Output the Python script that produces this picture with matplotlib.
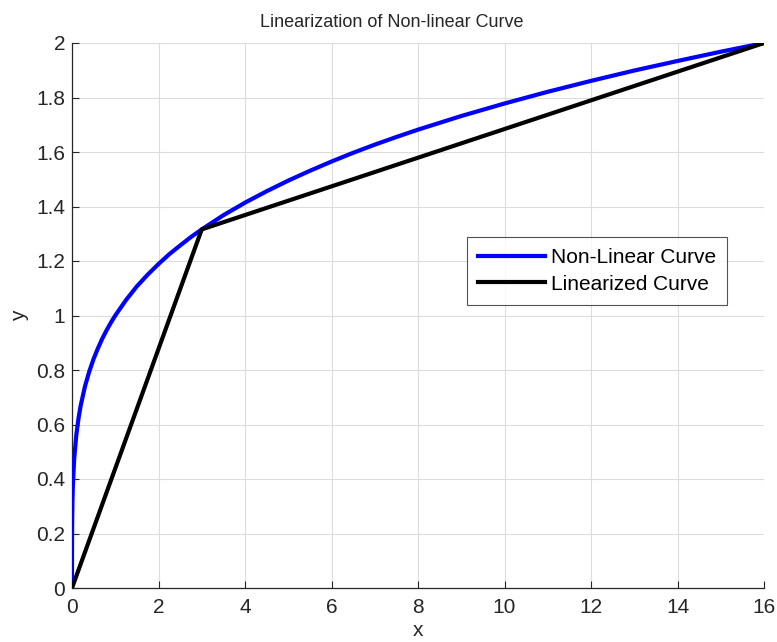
import matplotlib
matplotlib.use("Agg")
import matplotlib.pyplot as plt

plt.rcParams['font.family'] = ['Liberation Sans', 'DejaVu Sans']

# Non-linear curve samples
curve_x = [0, 0.00001, 0.0001, 0.0005, 0.001, 0.003, 0.01, 0.02, 0.05, 0.1,
           0.15, 0.2, 0.3, 0.4, 0.5, 0.6, 0.7, 0.8, 0.9, 1.0, 1.25, 1.5, 1.75,
           2.0, 2.25, 2.5, 2.75, 3.0, 3.5, 4.0, 4.5, 5.0, 5.5, 6.0, 6.5, 7.0,
           7.5, 8.0, 9.0, 10.0, 11.0, 12.0, 13.0, 14.0, 15.0, 16.0]
curve_y = [0, 0.056, 0.100, 0.150, 0.178, 0.234, 0.316, 0.376, 0.473, 0.562,
           0.622, 0.669, 0.740, 0.795, 0.841, 0.880, 0.915, 0.946, 0.974, 1.000,
           1.057, 1.107, 1.150, 1.189, 1.225, 1.257, 1.288, 1.316, 1.368, 1.414,
           1.456, 1.495, 1.531, 1.565, 1.597, 1.627, 1.655, 1.682, 1.732, 1.778,
           1.821, 1.861, 1.899, 1.934, 1.968, 2.000]

# Piecewise-linear approximation breakpoints
lin_x = [0, 3, 16]
lin_y = [0, 1.316, 2.0]

x_ticks = [0, 2, 4, 6, 8, 10, 12, 14, 16]
y_ticks = [0, 0.2, 0.4, 0.6, 0.8, 1.0, 1.2, 1.4, 1.6, 1.8, 2.0]
y_tick_labels = ['0', '0.2', '0.4', '0.6', '0.8', '1', '1.2', '1.4', '1.6', '1.8', '2']

W, H = 777, 642
fig = plt.figure(figsize=(W / 100, H / 100), dpi=100)
ax = fig.add_axes([72 / W, (H - 588) / H, (764 - 72) / W, (588 - 43) / H])

ax.plot(curve_x, curve_y, color='#0000ff', lw=3, label='Non-Linear Curve',
        zorder=3, solid_joinstyle='round')
ax.plot(lin_x, lin_y, color='black', lw=3, label='Linearized Curve', zorder=3)

ax.set_xlim(0, 16)
ax.set_ylim(0, 2)
ax.set_xticks(x_ticks)
ax.set_xticklabels([str(v) for v in x_ticks])
ax.set_yticks(y_ticks)
ax.set_yticklabels(y_tick_labels)

ax.grid(True, color='#dcdcdc', lw=0.8)
ax.set_axisbelow(True)
for s in ['top', 'right']:
    ax.spines[s].set_visible(False)
for s in ['left', 'bottom']:
    ax.spines[s].set_color('#262626')
    ax.spines[s].set_linewidth(0.9)

ax.tick_params(direction='in', length=5, width=0.8, color='#262626',
               labelsize=15, labelcolor='#262626')
ax.tick_params(axis='x', pad=7)
ax.tick_params(axis='y', pad=5)

ax.set_xlabel('x', fontsize=15, color='#262626', labelpad=3)
ax.set_ylabel('y', fontsize=15, color='#262626', labelpad=5)
fig.text(392 / W, 1 - 27 / H, 'Linearization of Non-linear Curve', fontsize=13,
         color='#262626', ha='center', va='baseline')

leg = ax.legend(loc='upper left',
                bbox_to_anchor=((467 - 72) / (764 - 72), (588 - 237) / (588 - 43)),
                fontsize=15, frameon=True, fancybox=False, edgecolor='#262626',
                handlelength=3.2, handletextpad=0.3, borderpad=0.52,
                labelspacing=0.38, borderaxespad=0)
leg.get_frame().set_linewidth(0.8)

fig.savefig('out.png', dpi=100)
